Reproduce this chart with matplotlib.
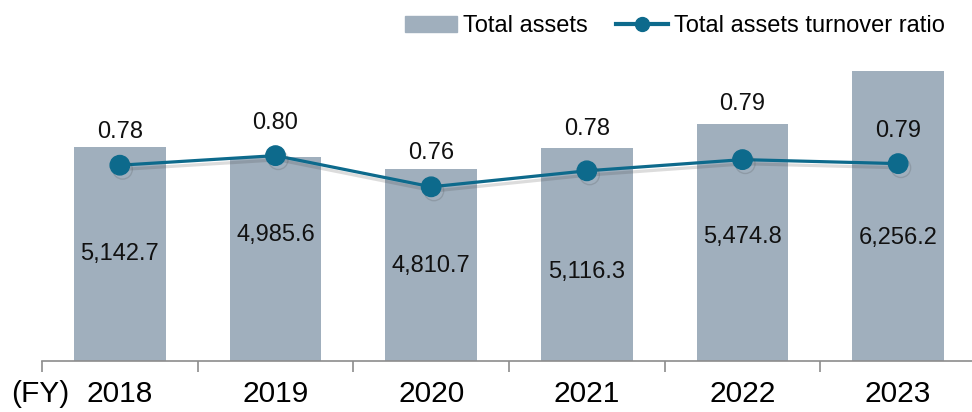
import matplotlib
matplotlib.use("Agg")
import matplotlib.pyplot as plt
import matplotlib.patheffects as pe
from matplotlib.lines import Line2D
from matplotlib.patches import Patch
import numpy as np

plt.rcParams['font.family'] = ['Liberation Sans', 'Noto Sans CJK JP', 'DejaVu Sans']

# data
years = ["2018", "2019", "2020", "2021", "2022", "2023"]
total_assets = [5142.7, 4985.6, 4810.7, 5116.3, 5474.8, 6256.2]
asset_labels = ["5,142.7", "4,985.6", "4,810.7", "5,116.3", "5,474.8", "6,256.2"]
turnover = [0.784, 0.796, 0.757, 0.777, 0.791, 0.786]
turnover_labels = ["0.78", "0.80", "0.76", "0.78", "0.79", "0.79"]

# label offsets (pixels), hand placed like in the original
bar_lbl_dy = [-0.5, 24, -1, -17.5, 6, -22]
line_lbl_dy = [33, 33, 34, 42, 56, 33]

BAR_C = "#A0AFBD"
LINE_C = "#0D6A8C"

fig = plt.figure(figsize=(9.72, 4.12), dpi=100)
ax = fig.add_axes([42/972, 51/412, 934/972, 341/412])
x = np.arange(len(years))

ax.bar(x, total_assets, width=0.59, color=BAR_C, zorder=1)
ax.set_ylim(2000, 7000)
ax.set_xlim(-0.5, 5.5)

for i, v in enumerate(total_assets):
    mid = (2000 + v) / 2
    ax.annotate(asset_labels[i], (x[i], mid), xytext=(0, bar_lbl_dy[i]),
                textcoords="offset pixels", ha="center", va="center", fontsize=17, color="#111111")

for s in ["top", "right", "left"]:
    ax.spines[s].set_visible(False)
ax.spines["bottom"].set_color("#8c8c8c")
ax.spines["bottom"].set_linewidth(1.2)
ax.set_yticks([])
ax.set_xticks(x)
ax.set_xticklabels(years, fontsize=21.5)
ax.tick_params(axis="x", which="major", length=0, pad=13.5)
ax.set_xticks(np.arange(-0.5, 6.0, 1.0), minor=True)
ax.tick_params(axis="x", which="minor", length=8, width=1.2, color="#8c8c8c", direction="out")

ax2 = ax.twinx()
ax2.set_ylim(0.5393, 0.9655)
ax2.axis("off")
shadow = [pe.SimpleLineShadow(offset=(2, -3), shadow_color="#404040", alpha=0.18), pe.Normal()]
ax2.plot(x, turnover, color=LINE_C, lw=2.3, marker="o", markersize=14,
         path_effects=shadow, zorder=3)
for i, v in enumerate(turnover):
    ax2.annotate(turnover_labels[i], (x[i], v), xytext=(0, line_lbl_dy[i]),
                 textcoords="offset pixels", ha="center", va="center", fontsize=17, color="#111111")

# FY marker left of the first year
fig.text(11/972, 1 - 394.5/412, "(FY)", ha="left", va="center", fontsize=21.5)

handles = [Patch(color=BAR_C),
           Line2D([], [], color=LINE_C, lw=3, marker="o", markersize=10)]
fig.legend(handles, ["Total assets", "Total assets turnover ratio"], ncol=2,
           loc="upper right", bbox_to_anchor=(0.994, 1.015), frameon=False, fontsize=17,
           handlelength=2.2, handletextpad=0.25, columnspacing=1.2)

fig.savefig("out.png", dpi=100)
